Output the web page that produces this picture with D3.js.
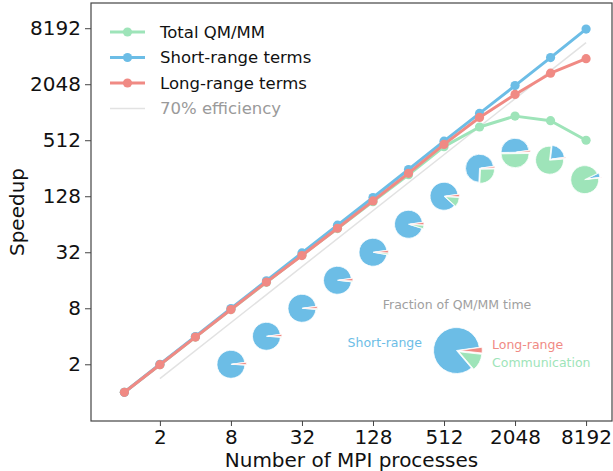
<!DOCTYPE html>
<html>
<head>
<meta charset="utf-8">
<script src="https://cdn.jsdelivr.net/npm/d3@7"></script>
<style>
  body { margin: 0; background: #fff; }
  svg { font-family: "DejaVu Sans", sans-serif; }
</style>
</head>
<body>
<div id="plot-container"></div>
<script>
// MPI process counts and measured speedups
const procs = [1, 2, 4, 8, 16, 32, 64, 128, 256, 512, 1024, 2048, 4096, 8192];
const totalSpeedup = [1, 1.98, 3.92, 7.75, 15.2, 29.8, 57.5, 112, 218, 437, 710, 930, 830, 512];
const shortSpeedup = [1, 2, 3.98, 7.95, 15.8, 31.5, 62.5, 124, 248, 500, 995, 1980, 3960, 8020];
const longSpeedup = [1, 1.98, 3.92, 7.75, 15.3, 29.5, 58, 114, 226, 462, 900, 1590, 2690, 3850];

// 70% parallel efficiency reference
const effProcs = [2, 8192];
const effSpeedup = [1.4, 5734];

// pies: fraction of QM/MM time
const pieProcs = [8, 16, 32, 64, 128, 256, 512, 1024, 2048, 4096, 8192];
const pieSpeedup = [2, 4, 8, 16, 32, 64, 128, 256, 380, 320, 195];
const pieShort = [0.97, 0.968, 0.965, 0.96, 0.95, 0.93, 0.86, 0.72, 0.48, 0.21, 0.05];
const pieComm = [0.003, 0.005, 0.01, 0.01, 0.02, 0.04, 0.11, 0.26, 0.50, 0.78, 0.945];
const pieLong = [0.027, 0.027, 0.025, 0.03, 0.03, 0.03, 0.03, 0.02, 0.02, 0.01, 0.005];
const legendPie = [0.84, 0.12, 0.04]; // short, comm, long

const xTicks = [2, 8, 32, 128, 512, 2048, 8192];
const yTicks = [2, 8, 32, 128, 512, 2048, 8192];

const colors = { total: '#9ee4b9', short: '#6cbde6', long: '#f08a84', eff: '#e2e2e2' };

const W = 613, H = 471;
const plot = { left: 91, right: 612, top: 3, bottom: 421 };

const svg = d3.select('#plot-container')
  .append('svg')
  .attr('width', W)
  .attr('height', H);

const xScale = d3.scaleLog().base(2)
  .domain([Math.pow(2, -0.94), Math.pow(2, 13.73)])
  .range([plot.left, plot.right]);

const yScale = d3.scaleLog().base(2)
  .domain([Math.pow(2, -1.025), Math.pow(2, 13.9)])
  .range([plot.bottom, plot.top]);

// efficiency line
const effLine = d3.line().x(d => xScale(d[0])).y(d => yScale(d[1]));
svg.append('path')
  .attr('d', effLine(effProcs.map((p, i) => [p, effSpeedup[i]])))
  .attr('fill', 'none')
  .attr('stroke', colors.eff)
  .attr('stroke-width', 1.5);

// series
const series = [
  { key: 'total', values: totalSpeedup },
  { key: 'short', values: shortSpeedup },
  { key: 'long', values: longSpeedup }
];
const line = d3.line().x(d => xScale(d[0])).y(d => yScale(d[1]));
series.forEach(s => {
  const pts = procs.map((p, i) => [p, s.values[i]]);
  svg.append('path')
    .attr('d', line(pts))
    .attr('fill', 'none')
    .attr('stroke', colors[s.key])
    .attr('stroke-width', 3)
    .attr('stroke-linejoin', 'round');
  svg.selectAll(null)
    .data(pts)
    .enter()
    .append('circle')
    .attr('cx', d => xScale(d[0]))
    .attr('cy', d => yScale(d[1]))
    .attr('r', 4.6)
    .attr('fill', colors[s.key]);
});

// pies, counterclockwise from startangle like matplotlib
const startDeg = 8;
function drawPie(cx, cy, r, fracs, explode) {
  const pie = d3.pie().sort(null).value(d => d.v)
    .startAngle((90 - startDeg) * Math.PI / 180)
    .endAngle((90 - startDeg - 360) * Math.PI / 180);
  const arc = d3.arc().innerRadius(0).outerRadius(r);
  const g = svg.append('g').attr('transform', `translate(${cx},${cy})`);
  pie(fracs).forEach(a => {
    const mid = (a.startAngle + a.endAngle) / 2;
    const e = a.data.key === 'short' ? 0 : explode * r;
    g.append('path')
      .attr('d', arc(a))
      .attr('transform', `translate(${Math.sin(mid) * e},${-Math.cos(mid) * e})`)
      .attr('fill', colors[a.data.key])
      .attr('stroke', '#fff')
      .attr('stroke-width', 0.8);
  });
}

pieProcs.forEach((p, i) => {
  drawPie(xScale(p), yScale(pieSpeedup[i]), 14, [
    { key: 'short', v: pieShort[i] },
    { key: 'total', v: pieComm[i] },
    { key: 'long', v: pieLong[i] }
  ], 0.1);
});

// pie legend
drawPie(456.5, 350.5, 23, [
  { key: 'short', v: legendPie[0] },
  { key: 'total', v: legendPie[1] },
  { key: 'long', v: legendPie[2] }
], 0.12);

svg.append('text')
  .attr('x', 457).attr('y', 304)
  .attr('text-anchor', 'middle').attr('dominant-baseline', 'central')
  .attr('font-size', 12.5).attr('fill', '#a0a0a0')
  .text('Fraction of QM/MM time');
svg.append('text')
  .attr('x', 422).attr('y', 342)
  .attr('text-anchor', 'end').attr('dominant-baseline', 'central')
  .attr('font-size', 12.5).attr('fill', colors.short)
  .text('Short-range');
svg.append('text')
  .attr('x', 492).attr('y', 344)
  .attr('dominant-baseline', 'central')
  .attr('font-size', 12.5).attr('fill', colors.long)
  .text('Long-range');
svg.append('text')
  .attr('x', 492).attr('y', 362)
  .attr('dominant-baseline', 'central')
  .attr('font-size', 12.5).attr('fill', colors.total)
  .text('Communication');

// axes
const fmt = d => String(d);
svg.append('g')
  .attr('transform', `translate(0,${plot.bottom})`)
  .call(d3.axisBottom(xScale).tickValues(xTicks).tickFormat(fmt).tickSize(5).tickPadding(4))
  .call(g => g.select('.domain').remove())
  .call(g => g.selectAll('line').attr('stroke', '#444'))
  .call(g => g.selectAll('text').attr('font-size', 20).attr('font-family', 'DejaVu Sans').attr('fill', '#111'));

svg.append('g')
  .attr('transform', `translate(${plot.left},0)`)
  .call(d3.axisLeft(yScale).tickValues(yTicks).tickFormat(fmt).tickSize(6).tickPadding(4))
  .call(g => g.select('.domain').remove())
  .call(g => g.selectAll('line').attr('stroke', '#444'))
  .call(g => g.selectAll('text').attr('font-size', 20).attr('font-family', 'DejaVu Sans').attr('fill', '#111'));

// frame
svg.append('rect')
  .attr('x', plot.left).attr('y', plot.top)
  .attr('width', plot.right - plot.left).attr('height', plot.bottom - plot.top)
  .attr('fill', 'none').attr('stroke', '#444').attr('stroke-width', 1.2);

// axis labels
svg.append('text')
  .attr('x', (plot.left + plot.right) / 2).attr('y', 467)
  .attr('text-anchor', 'middle')
  .attr('font-size', 20).attr('fill', '#111')
  .text('Number of MPI processes');
svg.append('text')
  .attr('transform', `translate(17,${(plot.top + plot.bottom) / 2}) rotate(-90)`)
  .attr('text-anchor', 'middle').attr('dominant-baseline', 'central')
  .attr('font-size', 20).attr('fill', '#111')
  .text('Speedup');

// legend
const legendItems = [
  { label: 'Total QM/MM', key: 'total', marker: true, textColor: '#111' },
  { label: 'Short-range terms', key: 'short', marker: true, textColor: '#111' },
  { label: 'Long-range terms', key: 'long', marker: true, textColor: '#111' },
  { label: '70% efficiency', key: 'eff', marker: false, textColor: '#9a9a9a' }
];
legendItems.forEach((item, i) => {
  const y = 32 + i * 25.5;
  svg.append('line')
    .attr('x1', 110).attr('x2', 145).attr('y1', y).attr('y2', y)
    .attr('stroke', colors[item.key])
    .attr('stroke-width', item.marker ? 3 : 1.5);
  if (item.marker) {
    svg.append('circle').attr('cx', 127.5).attr('cy', y).attr('r', 4.6).attr('fill', colors[item.key]);
  }
  svg.append('text')
    .attr('x', 160).attr('y', y)
    .attr('dominant-baseline', 'central')
    .attr('font-size', 16.5).attr('fill', item.textColor)
    .text(item.label);
});
</script>
</body>
</html>
